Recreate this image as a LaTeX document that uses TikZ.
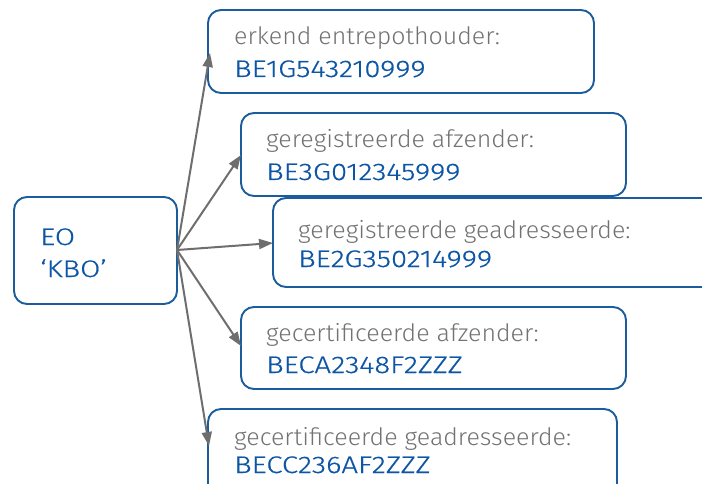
\documentclass[tikz,border=0pt]{standalone}
\usepackage{fontspec}
\setmainfont{Fira Sans}[UprightFont=* Light, FakeStretch=1.04]
\newfontfamily\idfont{Fira Sans}[UprightFont=* Light, FakeStretch=1.22, FakeBold=0.6]
\usetikzlibrary{arrows.meta}
\definecolor{boxblue}{HTML}{1B5C9C}
\definecolor{txtblue}{HTML}{0D56A6}
\definecolor{txtgrey}{HTML}{727272}
\definecolor{arrgrey}{HTML}{6E6E6E}
\tikzset{
  box/.style={draw=boxblue, line width=1.9pt, rounded corners=13pt, fill=white},
  lbl/.style={anchor=base west, inner sep=0pt, font=\fontsize{24}{28}\selectfont},
  idl/.style={lbl, text=txtblue, font=\fontsize{24}{28}\idfont},
  conn/.style={draw=arrgrey, line width=2pt, -{Triangle[length=14pt,width=10pt]}}
}
\begin{document}
\begin{tikzpicture}[x=1pt,y=-1pt]
\useasboundingbox (0,0) rectangle (702,484);
\clip (0,0) rectangle (702,484);
% boxes
\draw[box] (14,197) rectangle (177,304);
\draw[box] (208,10) rectangle (594,93);
\draw[box] (241,113) rectangle (626,196);
\draw[box] (273,198) rectangle (720,287);
\draw[box] (241,307) rectangle (626,389);
\draw[box] (208,409) rectangle (617,500);
% anchors
\coordinate (src) at (177,250);
\coordinate (t1) at (210,53);
\coordinate (t2) at (241,155);
\coordinate (t3) at (273,243);
\coordinate (t4) at (241,346);
\coordinate (t5) at (209,446);
% texts
\node[idl] (eo1) at (40,245) {EO};
\node[idl] (eo2) at (40,277) {‘KBO’};
\node[lbl, text=txtgrey] (a1) at (234,45) {erkend entrepothouder:};
\node[idl] (a2) at (234,77) {BE1G543210999};
\node[lbl, text=txtgrey] (b1) at (266,148) {geregistreerde afzender:};
\node[idl] (b2) at (266,180) {BE3G012345999};
\node[lbl, text=txtgrey] (c1) at (298,239) {geregistreerde geadresseerde:};
\node[idl] (c2) at (298,267) {BE2G350214999};
\node[lbl, text=txtgrey] (d1) at (266,341) {gecertificeerde afzender:};
\node[idl] (d2) at (266,373) {BECA2348F2ZZZ};
\node[lbl, text=txtgrey] (e1) at (234,445) {gecertificeerde geadresseerde:};
\node[idl] (e2) at (234,473) {BECC236AF2ZZZ};
% connectors
\draw[conn] (src) -- (t1);
\draw[conn] (src) -- (t2);
\draw[conn] (src) -- (t3);
\draw[conn] (src) -- (t4);
\draw[conn] (src) -- (t5);
\end{tikzpicture}
\end{document}
